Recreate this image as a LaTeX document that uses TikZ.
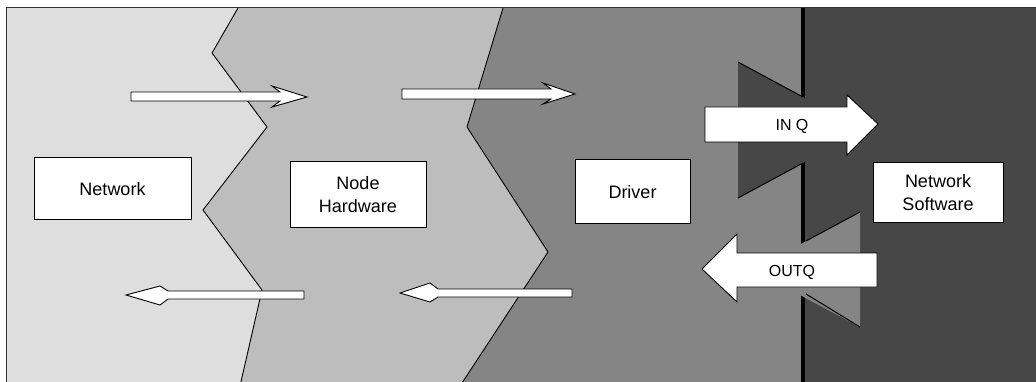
\documentclass[tikz,border=0pt]{standalone}
\usepackage{fontspec}
\setmainfont{Liberation Sans}
\begin{document}
\begin{tikzpicture}[x=1pt,y=-1pt]
\tikzset{
  zone/.style={draw=black, line width=0.9pt, line join=round},
  labelbox/.style={draw=black, fill=white, line width=1pt, inner sep=0pt,
    align=center, font=\fontsize{18}{23}\selectfont},
  flow/.style={draw=black, fill=white, line width=0.9pt, line join=miter},
  flowtext/.style={inner sep=0pt, font=\fontsize{16}{19}\selectfont},
  edge/.style={draw=black, line width=1pt},
}
\definecolor{netzone}{gray}{0.87}
\definecolor{hwzone}{gray}{0.74}
\definecolor{drvzone}{gray}{0.52}
\definecolor{swzone}{gray}{0.28}
\useasboundingbox (0,0) rectangle (1036,382);
\begin{scope}
\clip (0,0) rectangle (1036,382);
% background bands, left to right
\fill[netzone] (6,8) -- (238,8) -- (212,53) -- (267,127) -- (203,210)
  -- (262,290) -- (240,386) -- (6,386) -- cycle;
\fill[hwzone] (238,8) -- (503,8) -- (467,127) -- (548,252) -- (460,386)
  -- (240,386) -- (262,290) -- (203,210) -- (267,127) -- (212,53) -- cycle;
\fill[drvzone] (503,8) -- (803,8) -- (803,386) -- (460,386) -- (548,252)
  -- (467,127) -- cycle;
\fill[swzone] (803,8) rectangle (1040,386);
% jagged borders between the bands
\draw[zone] (238,8) -- (212,53) -- (267,127) -- (203,210) -- (262,290) -- (240,386);
\draw[zone] (503,8) -- (467,127) -- (548,252) -- (460,386);
% frame
\draw[black!80, line width=1pt] (6,386) -- (6,8) -- (1040,8);
% driver / software divider
\draw[black, line width=4pt] (803,8) -- (803,386);
% queue gates
\fill[swzone] (738,62) -- (864,130) -- (738,198) -- cycle;
\draw[edge] (738,62) -- (803,97);
\draw[edge] (738,198) -- (803,163);
\fill[drvzone] (860,212) -- (753,270) -- (860,327) -- cycle;
\draw[edge] (860,212) -- (806,241);
\draw[edge] (806,294) -- (860,327);
\end{scope}
% frame packets between network, hardware and driver
\draw[flow] (131,92) -- (280,92) -- (272,86) -- (307,97) -- (272,107)
  -- (280,101) -- (131,101) -- cycle;
\draw[flow] (402,89) -- (551,89) -- (543,83) -- (575,94) -- (543,104)
  -- (551,99) -- (402,99) -- cycle;
\draw[flow] (304,291) -- (168,291) -- (160,286) -- (126,295) -- (160,305)
  -- (168,299) -- (304,299) -- cycle;
\draw[flow] (572,289) -- (438,289) -- (430,283) -- (400,293) -- (430,302)
  -- (438,297) -- (572,297) -- cycle;
% queues between driver and network software
\draw[flow] (705,107) -- (847,107) -- (847,95) -- (878,124) -- (847,155)
  -- (847,142) -- (705,142) -- cycle;
\draw[flow] (877,253) -- (737,253) -- (737,234) -- (702,269) -- (737,302)
  -- (737,287) -- (877,287) -- cycle;
\node[flowtext] (inq) at (792,126) {IN Q};
\node[flowtext] (outq) at (792,272) {OUTQ};
% layer labels
\node[labelbox, minimum width=157pt, minimum height=62pt] (net) at (112.5,189) {Network};
\node[labelbox, minimum width=136pt, minimum height=66pt] (hw) at (358,195) {Node\\Hardware};
\node[labelbox, minimum width=115pt, minimum height=64pt] (drv) at (632.5,192) {Driver};
\node[labelbox, minimum width=130pt, minimum height=60pt] (sw) at (938,193) {Network\\Software};
\end{tikzpicture}
\end{document}
